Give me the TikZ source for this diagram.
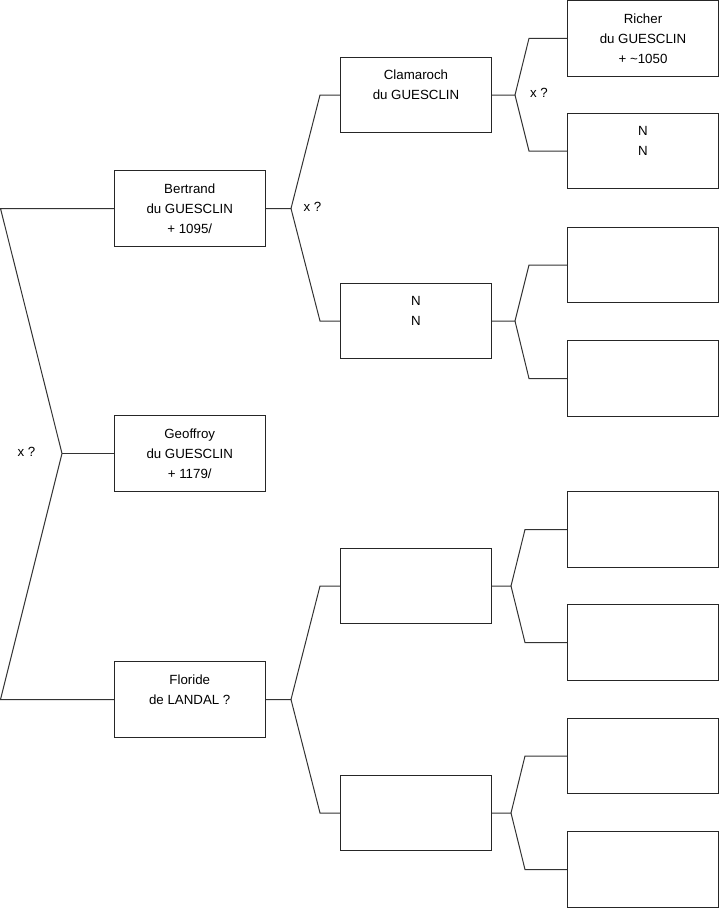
\documentclass[tikz,border=0pt]{standalone}
\usepackage{fontspec}
\setmainfont{Liberation Sans}
\begin{document}
\begin{tikzpicture}[x=1pt,y=-1pt,
  box/.style={draw=black!85, line width=1pt, minimum width=151pt, minimum height=75.5pt,
    align=center, inner sep=0pt, font=\fontsize{13.3}{20}\selectfont},
  conn/.style={draw=black!80, line width=1pt},
  lbl/.style={font=\fontsize{13.3}{16}\selectfont, inner sep=0pt}]
\useasboundingbox (0,0) rectangle (719,908);
% generation 1
\node[box] (bertrand) at (189.75,208.5) {Bertrand\\du GUESCLIN\\+ 1095/};
\node[box] (geoffroy) at (189.75,453.5) {Geoffroy\\du GUESCLIN\\+ 1179/};
\node[box] (floride) at (189.75,699.5) {Floride\\de LANDAL ?\\~};
% generation 2
\node[box] (clamaroch) at (416,95) {Clamaroch\\du GUESCLIN\\~};
\node[box] (nn1) at (416,321) {N\\N\\~};
\node[box] (e1) at (416,586) {};
\node[box] (e2) at (416,813) {};
% generation 3
\node[box] (richer) at (643,38.3) {Richer\\du GUESCLIN\\+ \textasciitilde 1050};
\node[box] (nn2) at (643,151) {N\\N\\~};
\node[box] (g3) at (643,265) {};
\node[box] (g4) at (643,378.5) {};
\node[box] (g5) at (643,529.5) {};
\node[box] (g6) at (643,642.5) {};
\node[box] (g7) at (643,756) {};
\node[box] (g8) at (643,869.5) {};
% fork points
\coordinate (f0) at (62,453.5);
\coordinate (t0) at (0.5,208.5);
\coordinate (b0) at (0.5,699.5);
\coordinate (f1) at (291,208.5);
\coordinate (f2) at (291,699.5);
\coordinate (f3) at (515,95);
\coordinate (f4) at (515,321);
\coordinate (f5) at (511,586);
\coordinate (f6) at (511,813);
% connectors
\draw[conn] (bertrand.west) -- (t0) -- (f0) -- (b0) -- (floride.west);
\draw[conn] (f0) -- (geoffroy.west);
\draw[conn] (bertrand.east) -- (f1) -- (320,95) -- (clamaroch.west);
\draw[conn] (f1) -- (320,321) -- (nn1.west);
\draw[conn] (floride.east) -- (f2) -- (320,586) -- (e1.west);
\draw[conn] (f2) -- (320,813) -- (e2.west);
\draw[conn] (clamaroch.east) -- (f3) -- (529,38.3) -- (richer.west);
\draw[conn] (f3) -- (529,151) -- (nn2.west);
\draw[conn] (nn1.east) -- (f4) -- (529,265) -- (g3.west);
\draw[conn] (f4) -- (529,378.5) -- (g4.west);
\draw[conn] (e1.east) -- (f5) -- (525,529.5) -- (g5.west);
\draw[conn] (f5) -- (525,642.5) -- (g6.west);
\draw[conn] (e2.east) -- (f6) -- (525,756) -- (g7.west);
\draw[conn] (f6) -- (525,869.5) -- (g8.west);
% labels
\node[lbl] (x0) at (26.5,452) {x ?};
\node[lbl] (x1) at (312.5,207) {x ?};
\node[lbl] (x2) at (539,93) {x ?};
\end{tikzpicture}
\end{document}
